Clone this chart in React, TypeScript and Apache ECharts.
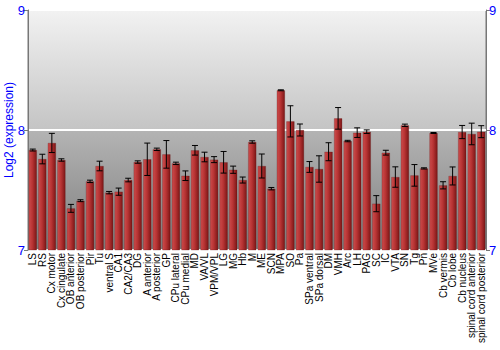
import React, { useEffect, useRef } from "react";
import * as echarts from "echarts";

const categories = [
  "LS", "RS", "Cx motor", "Cx cingulate", "OB anterior", "OB posterior", "Pir", "Tu",
  "ventral S", "CA1", "CA2/CA3", "DG", "A anterior", "A posterior", "GP", "CPu lateral",
  "CPu medial", "MD", "VA/VL", "VPM/VPL", "LG", "MG", "Hb", "M", "ME", "SCN", "MPA", "SO",
  "Pa", "SPa ventral", "SPa dorsal", "DM", "VMH", "Arc", "LH", "PAG", "SC", "IC", "VTA",
  "SN", "Tg", "Pn", "MVe", "Cb vermis", "Cb lobe", "Cb nucleus", "spinal cord anterior",
  "spinal cord posterior",
];

const values = [
  7.833, 7.758, 7.892, 7.75, 7.347, 7.411, 7.572, 7.7,
  7.478, 7.486, 7.583, 7.733, 7.756, 7.839, 7.797, 7.722,
  7.619, 7.831, 7.775, 7.753, 7.731, 7.669, 7.583, 7.9, 7.7, 7.511, 8.331, 8.072,
  8.0, 7.692, 7.675, 7.819, 8.097, 7.908, 7.978, 7.986, 7.386, 7.811, 7.608,
  8.039, 7.622, 7.68, 7.975, 7.539, 7.617, 7.983, 7.967,
  7.986,
];

const errors = [
  0.008, 0.04, 0.08, 0.01, 0.033, 0.008, 0.01, 0.04,
  0.01, 0.03, 0.015, 0.01, 0.135, 0.01, 0.115, 0.01,
  0.04, 0.04, 0.04, 0.025, 0.09, 0.03, 0.025, 0.01, 0.1, 0.01, 0.004, 0.13,
  0.05, 0.045, 0.11, 0.075, 0.09, 0.006, 0.04, 0.015, 0.067, 0.02, 0.085,
  0.01, 0.09, 0.005, 0.004, 0.03, 0.075, 0.055, 0.09,
  0.05,
];

const yTicks = [7, 8, 9];

export default function App() {
  const ref = useRef<HTMLDivElement>(null);

  useEffect(() => {
    if (!ref.current) return;
    const chart = echarts.init(ref.current, null, { renderer: "svg" });
    const font = "'Liberation Sans', Arial, sans-serif";
    const errData = values.map((v, i) => [i, v - errors[i], v + errors[i]]);
    const yAxisBase = {
      type: "value",
      min: yTicks[0],
      max: yTicks[yTicks.length - 1],
      interval: 1,
      axisLine: { show: true, lineStyle: { color: "#777", width: 1 } },
      axisTick: { show: true, length: 4, lineStyle: { color: "#777" } },
      axisLabel: { color: "#0000ff", fontSize: 13, fontFamily: font, margin: 3 },
    };
    chart.setOption({
      animation: false,
      grid: {
        left: 28,
        right: 14,
        top: 10,
        bottom: 100,
        containLabel: false,
        outerBoundsMode: "none",
        show: true,
        borderColor: "#777",
        borderWidth: 1,
        backgroundColor: new echarts.graphic.LinearGradient(0, 0, 0, 1, [
          { offset: 0, color: "#f2f2f2" },
          { offset: 0.5, color: "#c4c4c4" },
          { offset: 0.5, color: "#b4b4b4" },
          { offset: 1, color: "#7e7e7e" },
        ]),
      },
      xAxis: {
        type: "category",
        data: categories,
        axisLine: { show: false },
        axisTick: { show: false },
        axisLabel: {
          rotate: 90,
          interval: 0,
          fontSize: 10,
          color: "#000",
          fontFamily: font,
          margin: 3,
        },
      },
      yAxis: [
        {
          ...yAxisBase,
          position: "left",
          name: "Log2 (expression)",
          nameLocation: "middle",
          nameGap: 13,
          nameMoveOverlap: false,
          nameTextStyle: { color: "#0000ff", fontSize: 12, fontFamily: font },
          splitLine: { show: true, lineStyle: { color: "#ffffff", width: 2 } },
        },
        { ...yAxisBase, position: "right", splitLine: { show: false } },
      ],
      series: [
        {
          type: "bar",
          data: values,
          barCategoryGap: "14%",
          z: 2,
          itemStyle: {
            color: new echarts.graphic.LinearGradient(0, 0, 1, 0, [
              { offset: 0, color: "#cc4c4c" },
              { offset: 0.45, color: "#b83434" },
              { offset: 1, color: "#7c1616" },
            ]),
            borderColor: "rgba(90,20,20,0.5)",
            borderWidth: 0.5,
          },
        },
        {
          type: "custom",
          z: 5,
          data: errData,
          renderItem: (params: any, api: any) => {
            const x = api.value(0);
            const lo = api.coord([x, api.value(1)]);
            const hi = api.coord([x, api.value(2)]);
            const cap = 3;
            const style = { stroke: "#000", lineWidth: 1 };
            return {
              type: "group",
              children: [
                { type: "line", shape: { x1: lo[0], y1: lo[1], x2: hi[0], y2: hi[1] }, style },
                { type: "line", shape: { x1: lo[0] - cap, y1: lo[1], x2: lo[0] + cap, y2: lo[1] }, style },
                { type: "line", shape: { x1: hi[0] - cap, y1: hi[1], x2: hi[0] + cap, y2: hi[1] }, style },
              ],
            };
          },
        },
      ],
    });
    return () => chart.dispose();
  }, []);

  return (
    <div
      ref={ref}
      style={{ position: "fixed", left: 0, top: 0, width: 500, height: 350, background: "#fff" }}
    />
  );
}
